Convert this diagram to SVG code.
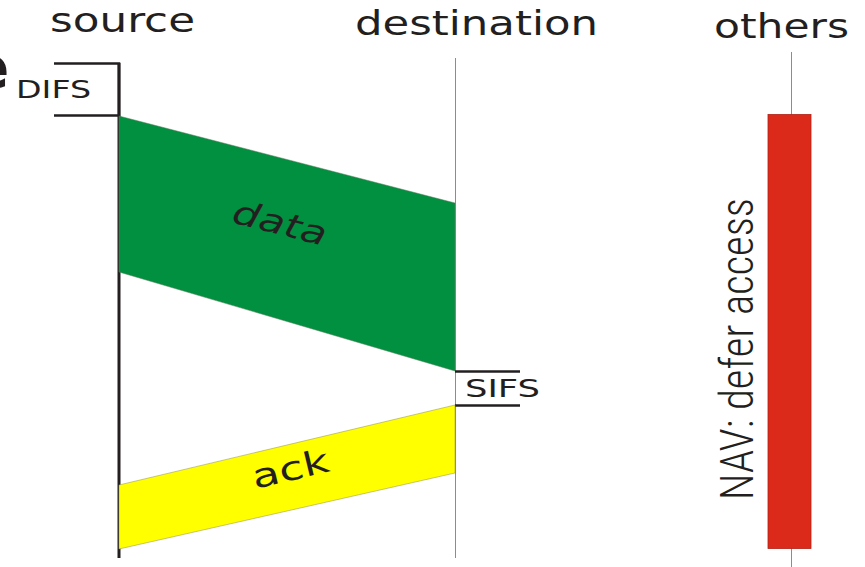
<svg xmlns="http://www.w3.org/2000/svg" width="865" height="567" viewBox="0 0 865 567">
<style>
.lbl{font-family:"DejaVu Sans","Liberation Sans",sans-serif;fill:#231f20}
.big{font-size:33px}
.small{font-size:25px}
.thin{stroke:#8c8c8c;stroke-width:1;fill:none}
.blk{stroke:#231f20;stroke-width:2.5;fill:none}
</style>
<rect width="865" height="567" fill="#ffffff"/>
<text class="lbl" x="-30" y="88" style="font-size:58px;font-weight:bold">e</text>
<g id="source">
<text class="lbl big" x="50" y="32" textLength="145" lengthAdjust="spacingAndGlyphs">source</text>
<line class="blk" x1="119" y1="63" x2="119" y2="558" style="stroke-width:3"/>
</g>
<g id="destination">
<text class="lbl big" x="355" y="35" textLength="243" lengthAdjust="spacingAndGlyphs">destination</text>
<line class="thin" x1="455.5" y1="58" x2="455.5" y2="558"/>
</g>
<g id="others">
<text class="lbl big" x="714" y="38" textLength="135" lengthAdjust="spacingAndGlyphs">others</text>
<line class="thin" x1="791.5" y1="52" x2="791.5" y2="567"/>
</g>
<g id="difs">
<polyline class="blk" points="54,63.5 119,63.5 119,115.5 54,115.5"/>
<text class="lbl small" x="16" y="98" textLength="75" lengthAdjust="spacingAndGlyphs">DIFS</text>
</g>
<g id="data">
<polygon points="119,116 455,203 455,371 119,272" fill="#009040" stroke="#5a7a5a" stroke-width="0.5"/>
<text class="lbl big" transform="translate(277,234) rotate(14.5)" text-anchor="middle" style="font-style:italic" textLength="96" lengthAdjust="spacingAndGlyphs">data</text>
</g>
<g id="sifs">
<line class="blk" x1="455" y1="371.5" x2="520" y2="371.5"/>
<line class="blk" x1="455" y1="405.5" x2="520" y2="405.5"/>
<text class="lbl small" x="465" y="397" textLength="75" lengthAdjust="spacingAndGlyphs">SIFS</text>
</g>
<g id="ack">
<polygon points="119,485 455,405 455,473 119,549" fill="#ffff00" stroke="#8c8c5a" stroke-width="0.5"/>
<text class="lbl big" transform="translate(293,480) rotate(-13.4)" text-anchor="middle" textLength="78" lengthAdjust="spacingAndGlyphs">ack</text>
</g>
<g id="nav">
<rect x="768" y="114.5" width="43" height="434" fill="#dc2a1a" stroke="#b02015" stroke-width="0.8"/>
<text transform="translate(753,500) rotate(-90)" style="font-family:'Roboto Condensed',Roboto,'Liberation Sans',sans-serif;font-size:46px;font-weight:300;fill:#231f20" textLength="302" lengthAdjust="spacingAndGlyphs">NAV: defer access</text>
</g>
</svg>
